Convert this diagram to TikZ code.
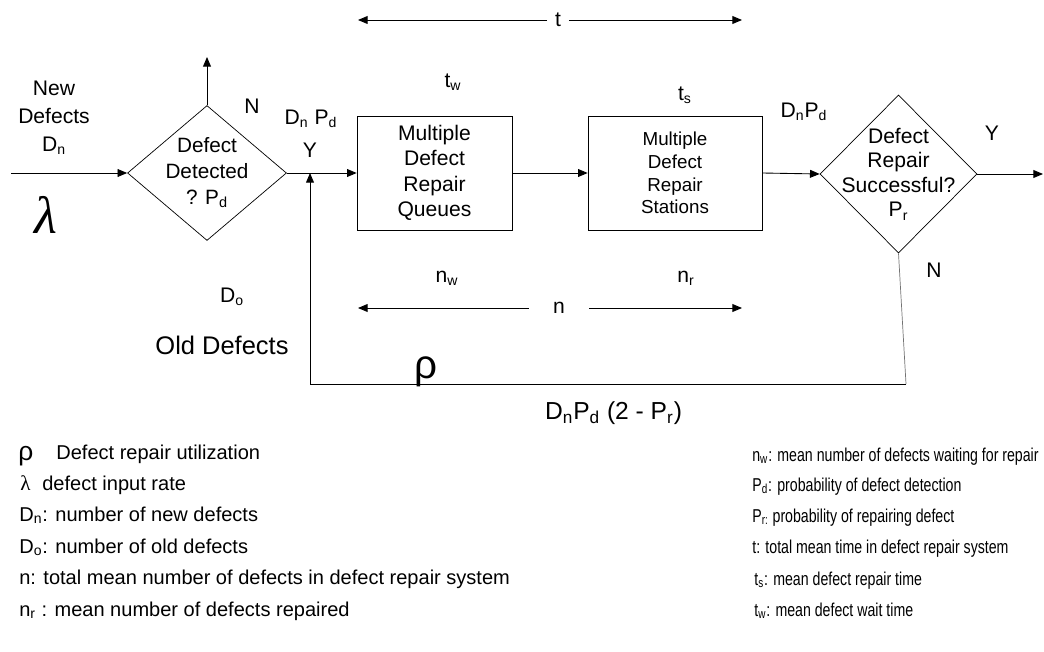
\documentclass[tikz,border=0pt]{standalone}
\usepackage{fontspec}
\setmainfont{Liberation Sans}
\newfontfamily\serifgreek{Liberation Serif}
\newfontfamily\narrowsans[FakeStretch=0.76]{Liberation Sans}
\usetikzlibrary{arrows.meta, positioning, shapes.geometric}

\begin{document}
\begin{tikzpicture}[x=0.02cm,y=-0.02cm,>={Triangle[length=5.5pt,width=4.5pt]},
    every node/.style={font=\fontsize{12}{14}\selectfont, inner sep=1pt},
    decision/.style={draw, diamond, inner sep=0pt},
    repairbox/.style={draw, rectangle, minimum height=2.28cm, align=center},
    flow/.style={->, line width=0.5pt},
    legend/.style={anchor=base west, inner sep=0pt, font=\fontsize{11.4}{13}\selectfont},
    legendr/.style={anchor=base west, inner sep=0pt, font=\narrowsans\fontsize{10.6}{12}\selectfont}]

  \useasboundingbox (0,0) rectangle (1044,652);

  % main flow
  \node[decision, minimum width=3.18cm, minimum height=2.7cm] (detect) at (207,173) {};
  \node[align=center, font=\fontsize{11.8}{14.7}\selectfont] (detecttxt) at (detect) {Defect\\Detected\\? P\textsubscript{d}};
  \node[repairbox, minimum width=3.1cm, font=\fontsize{12}{14.5}\selectfont] (queues) at (434.5,173) {Multiple\\Defect\\Repair\\Queues};
  \node[repairbox, minimum width=3.48cm, font=\fontsize{10.7}{13}\selectfont] (stations) at (675,173) {Multiple\\Defect\\Repair\\Stations};
  \node[decision, minimum width=3.14cm, minimum height=3.16cm] (success) at (898.5,174) {};
  \node[align=center, font=\fontsize{12}{14}\selectfont] (successtxt) at (success) {Defect\\Repair\\Successful?\\P\textsubscript{r}};

  \coordinate (in) at (11,173);
  \coordinate (reject) at (207,57);
  \coordinate (join) at (310,173);
  \coordinate (out) at (1043,174);
  \coordinate (loopL) at (310,384);
  \coordinate (loopR) at (906,384);

  \draw[flow] (in) -- (detect.west);
  \draw[flow] (detect.north) -- (reject);
  \draw[flow] (detect.east) -- (queues.west);
  \draw[flow] (queues.east) -- (stations.west);
  \draw[flow] (stations.east) -- (success.west);
  \draw[flow] (success.east) -- (out);
  \draw[black!55] (success.south) -- (loopR);
  \draw (loopR) -- (loopL);
  \draw[flow] (loopL) -- (join);

  % time and number spans
  \node[inner xsep=0.15cm] (tlab) at (558,20) {t};
  \coordinate (tL) at (358,20);
  \coordinate (tR) at (742,20);
  \draw[flow] (tlab) -- (tL);
  \draw[flow] (tlab) -- (tR);
  \node[inner xsep=0.48cm] (nlab) at (559,308) {n};
  \coordinate (nL) at (358,308);
  \coordinate (nR) at (742,308);
  \draw[flow] (nlab) -- (nL);
  \draw[flow] (nlab) -- (nR);

  % labels
  \node[align=center, font=\fontsize{12}{16}\selectfont] (newdef) at (54,118) {New\\Defects\\D\textsubscript{n}};
  \node[font=\serifgreek\itshape\fontsize{30}{30}\selectfont] (lambda) at (46,215) {λ};
  \node (noA) at (252,106) {N};
  \node (dnpdA) at (311,119) {D\textsubscript{n} P\textsubscript{d}};
  \node (yesA) at (310,150) {Y};
  \node (tw) at (453,82) {t\textsubscript{w}};
  \node (ts) at (685,95) {t\textsubscript{s}};
  \node (dnpdB) at (804,112) {D\textsubscript{n}P\textsubscript{d}};
  \node (yesB) at (992,133) {Y};
  \node (noB) at (934,270) {N};
  \node (nw) at (447,278) {n\textsubscript{w}};
  \node (nr) at (686,278) {n\textsubscript{r}};
  \node (dold) at (232,297) {D\textsubscript{o}};
  \node[font=\fontsize{14.5}{16}\selectfont] (olddef) at (222,345) {Old Defects};
  \node[anchor=base, font=\fontsize{23}{23}\selectfont] (rho) at (426,378) {ρ};
  \node[anchor=west, font=\fontsize{14}{16}\selectfont] (fedback) at (543,413) {D\textsubscript{n}P\textsubscript{d} (2 - P\textsubscript{r})};

  % legend
  \node[legend, font=\fontsize{15}{15}\selectfont] (keyrho) at (18,460) {ρ};
  \node[legend] (keyrhotxt) at (56,459) {Defect repair utilization};
  \node[legend, font=\serifgreek\fontsize{12}{13}\selectfont] (keylam) at (20,490) {λ};
  \node[legend] (keylamtxt) at (42,490) {defect input rate};
  \node[legend] (keydn) at (19,521) {D\textsubscript{n}: number of new defects};
  \node[legend] (keydo) at (19,553) {D\textsubscript{o}: number of old defects};
  \node[legend] (keyn) at (19,584) {n: total mean number of defects in defect repair system};
  \node[legend] (keynr) at (19,616) {n\textsubscript{r} : mean number of defects repaired};
  \node[legendr] (keynw) at (752,461) {n\textsubscript{w}: mean number of defects waiting for repair};
  \node[legendr] (keypd) at (752,491) {P\textsubscript{d}: probability of defect detection};
  \node[legendr] (keypr) at (752,522) {P\textsubscript{r:} probability of repairing defect};
  \node[legendr] (keyt) at (752,553) {t: total mean time in defect repair system};
  \node[legendr] (keyts) at (754,585) {t\textsubscript{s}: mean defect repair time};
  \node[legendr] (keytw) at (754,616) {t\textsubscript{w}: mean defect wait time};
\end{tikzpicture}
\end{document}
